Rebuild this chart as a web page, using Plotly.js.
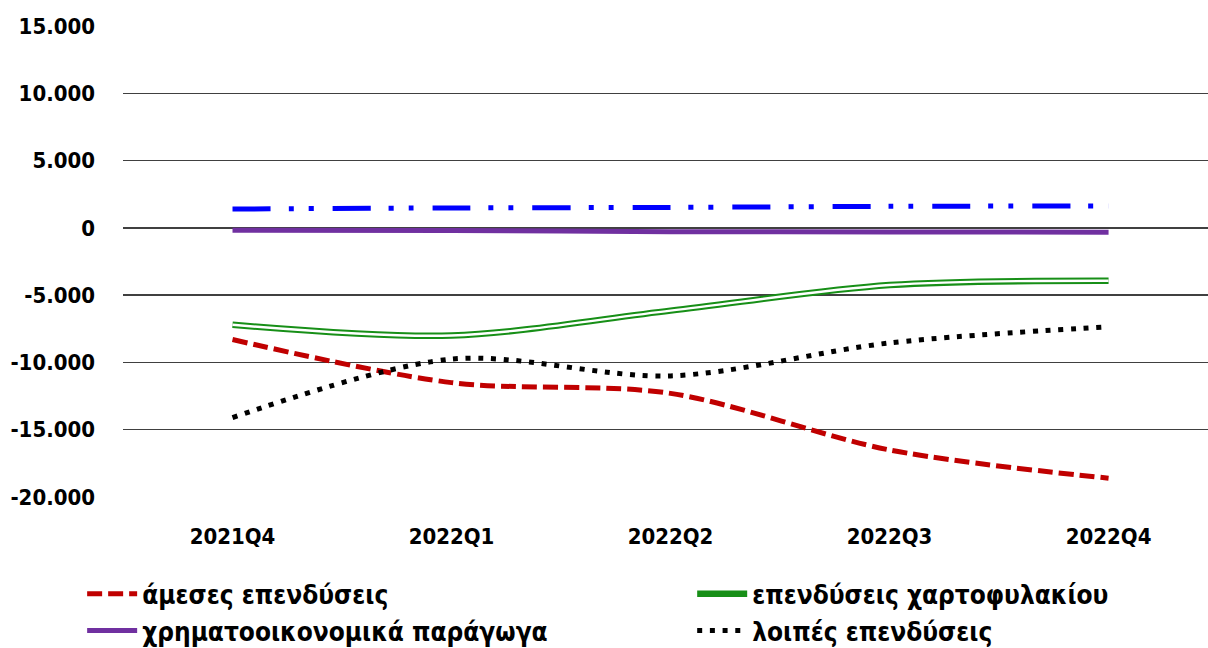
<!DOCTYPE html>
<html>
<head>
<meta charset="utf-8">
<script src="https://cdn.plot.ly/plotly-3.0.1.min.js"></script>
<style>html,body{margin:0;padding:0;background:#fff;}#chart{width:1208px;height:648px;}</style>
</head>
<body>
<div id="chart"></div>
<script>
const categories = ["2021Q4", "2022Q1", "2022Q2", "2022Q3", "2022Q4"];
const directInvestment = [-8300, -11500, -12300, -16500, -18600];
const portfolioInvestment = [-7200, -8000, -6150, -4250, -3930];
const financialDerivatives = [-180, -200, -280, -300, -320];
const otherInvestment = [-14100, -9750, -11000, -8550, -7350];
const reserveAssets = [1400, 1480, 1520, 1600, 1630];
const yTickVals = [-20000, -15000, -10000, -5000, 0, 5000, 10000, 15000];
const yTickText = ["-20.000", "-15.000", "-10.000", "-5.000", "0", "5.000", "10.000", "15.000"];
const gridVals = [-20000, -15000, -10000, -5000, 0, 5000, 10000];

const FONT = "DejaVu Sans Condensed, DejaVu Sans, sans-serif";

const traces = [
  {x: categories, y: reserveAssets, yaxis: "y2", type: "scatter", mode: "lines", line: {width: 0},
   showlegend: false, hoverinfo: "skip", opacity: 0},
  {x: categories, y: directInvestment, name: "άμεσες επενδύσεις", type: "scatter", mode: "lines",
   line: {color: "#C00000", width: 5, dash: "15px,6px", shape: "spline", smoothing: 0.9}, legend: "legend"},
  {x: categories, y: portfolioInvestment, name: "επενδύσεις χαρτοφυλακίου", type: "scatter", mode: "lines",
   line: {color: "#178F17", width: 6.5, shape: "spline", smoothing: 0.9}, legend: "legend2"},
  {x: categories, y: portfolioInvestment, name: "επενδύσεις χαρτοφυλακίου (εσωτ.)", type: "scatter", mode: "lines",
   line: {color: "#FFFFFF", width: 2.4, shape: "spline", smoothing: 0.9}, showlegend: false, hoverinfo: "skip"},
  {x: categories, y: financialDerivatives, name: "χρηματοοικονομικά παράγωγα", type: "scatter", mode: "lines",
   line: {color: "#7030A0", width: 5, shape: "spline", smoothing: 0.9}, legend: "legend"},
  {x: categories, y: otherInvestment, name: "λοιπές επενδύσεις", type: "scatter", mode: "lines",
   line: {color: "#000000", width: 5, dash: "5px,7.7px", shape: "spline", smoothing: 0.9}, legend: "legend2"},
  {x: categories, y: reserveAssets, name: "συναλλαγματικά διαθέσιμα", type: "scatter", mode: "lines",
   line: {color: "#0000FF", width: 5, dash: "38px,18px,5px,15px,5px,19px", shape: "spline", smoothing: 0.9}, showlegend: false}
];

const legendCommon = {
  orientation: "v", xref: "container", yref: "container", xanchor: "left", yanchor: "top",
  bgcolor: "rgba(0,0,0,0)", font: {family: FONT, size: 26, color: "#000", weight: "bold"}, itemwidth: 50,
  tracegroupgap: 0
};

const layout = {
  width: 1208, height: 648,
  margin: {l: 123, r: 0, t: 26, b: 151, autoexpand: false},
  paper_bgcolor: "#fff", plot_bgcolor: "#fff",
  showlegend: true,
  xaxis: {
    type: "category", range: [-0.5, 4.454], showgrid: false, zeroline: false, showline: false,
    ticks: "", ticklabelstandoff: 24, tickangle: 0, automargin: false,
    tickfont: {family: FONT, size: 22, color: "#000", weight: "bold"}
  },
  yaxis: {
    range: [-20000, 15000], tickvals: yTickVals, ticktext: yTickText, automargin: false,
    showgrid: false, zeroline: false, showline: false, ticks: "", ticklabelstandoff: 27,
    tickfont: {family: FONT, size: 22, color: "#000", weight: "bold"}
  },
  yaxis2: {
    overlaying: "y", range: [-20000, 15000], tickvals: gridVals, showticklabels: false, automargin: false,
    showgrid: true, gridcolor: "#404040", gridwidth: 1.5, zeroline: false, showline: false, ticks: ""
  },
  legend: Object.assign({}, legendCommon, {x: 0.068, y: 0.12}),
  legend2: Object.assign({}, legendCommon, {x: 0.573, y: 0.12})
};

Plotly.newPlot("chart", traces, layout, {staticPlot: true});
</script>
</body>
</html>
